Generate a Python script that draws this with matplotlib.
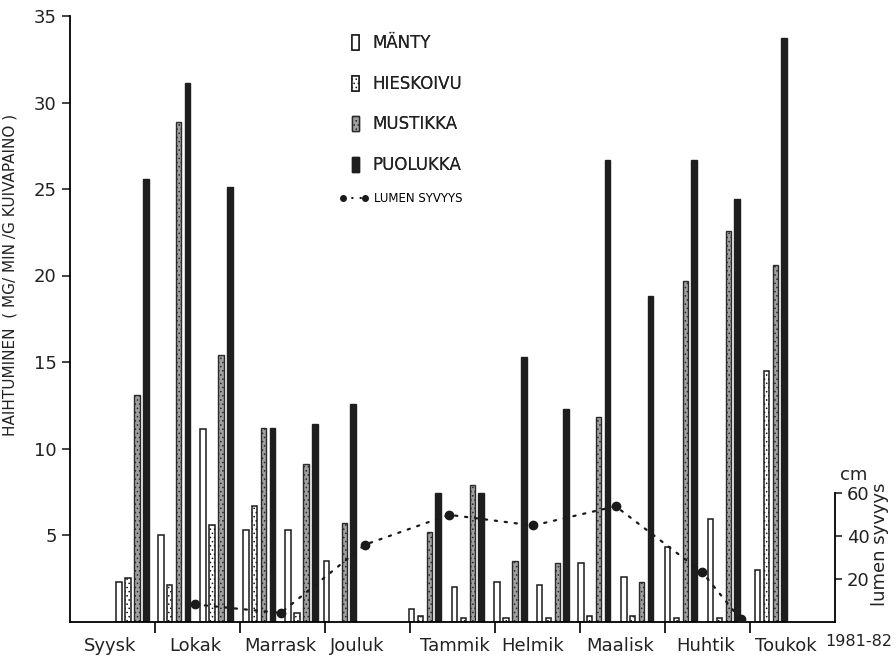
import numpy as np
import matplotlib.pyplot as plt
from matplotlib.patches import Patch
from matplotlib.lines import Line2D

plt.rcParams['font.family'] = ['DejaVu Sans']
plt.rcParams['hatch.linewidth'] = 0.6

months = ['Syysk', 'Lokak', 'Marrask', 'Jouluk', 'Tammik', 'Helmik', 'Maalisk', 'Huhtik', 'Toukok']
month_label_pos = [0.47, 1.47, 2.48, 3.38, 4.53, 5.44, 6.47, 7.48, 8.42]
# measurement dates (months from 1 Sept 1981)
dates = [0.735, 1.224, 1.726, 2.224, 2.725, 3.176, 4.176, 4.682, 5.182, 5.682, 6.165, 6.671, 7.188, 7.694, 8.247]
manty = [2.3, 5.0, 11.1, 5.3, 5.3, 3.5, 0.7, 2.0, 2.3, 2.1, 3.4, 2.6, 4.3, 5.9, 3.0]
hieskoivu = [2.5, 2.1, 5.6, 6.7, 0.5, 0.0, 0.3, 0.2, 0.2, 0.2, 0.3, 0.3, 0.2, 0.2, 14.5]
mustikka = [13.1, 28.9, 15.4, 11.2, 9.1, 5.7, 5.2, 7.9, 3.5, 3.4, 11.8, 2.3, 19.7, 22.6, 20.6]
puolukka = [25.6, 31.1, 25.1, 11.2, 11.4, 12.6, 7.4, 7.4, 15.3, 12.3, 26.7, 18.8, 26.7, 24.4, 33.7]

snow_dates = [1.47, 2.48, 3.47, 4.46, 5.45, 6.42, 7.44, 7.89]
snow_cm = [8, 4, 36, 50, 45, 54, 23, 1]

fig = plt.figure(figsize=(8.96, 6.61), dpi=100)
ax = fig.add_axes([70/896, 39.5/661, 765/896, 605.5/661])
ax.set_xlim(0, 9)
ax.set_ylim(0, 35)

x = np.array(dates)
step = 0.105
w = 0.068
styles = [
    dict(facecolor='white', edgecolor='#1a1a1a', linewidth=1.1),
    dict(facecolor='white', edgecolor='#1a1a1a', linewidth=1.1, hatch='....'),
    dict(facecolor='#a0a0a0', edgecolor='#2a2a2a', linewidth=1.0, hatch='....'),
    dict(facecolor='#1e1e1e', edgecolor='#1e1e1e', linewidth=1.0),
]
series = [manty, hieskoivu, mustikka, puolukka]
names = ['MÄNTY', 'HIESKOIVU', 'MUSTIKKA', 'PUOLUKKA']
for i, (vals, st) in enumerate(zip(series, styles)):
    v = np.array(vals)
    m = v > 0
    ax.bar(x[m] + (i - 1.5) * step, v[m], width=w, **st)

for s in ['top', 'right']:
    ax.spines[s].set_visible(False)
ax.spines['left'].set_linewidth(1.3)
ax.spines['bottom'].set_linewidth(1.3)
ax.set_yticks([5, 10, 15, 20, 25, 30, 35])
ax.tick_params(axis='y', direction='out', length=6, width=1.2, labelsize=13, colors='#222222')
ax.set_xticks(range(1, 9))
ax.set_xticklabels([])
ax.tick_params(axis='x', which='major', direction='out', length=8, width=1.2)
ax.set_xticks(month_label_pos, minor=True)
ax.set_xticklabels(months, minor=True)
ax.tick_params(axis='x', which='minor', length=0, pad=11, labelsize=13, colors='#222222')
fig.text(892/896, 1 - 642/661, '1981-82', fontsize=11.5, ha='right', va='center', color='#222222')

ax.set_ylabel('HAIHTUMINEN  ( MG/ MIN /G KUIVAPAINO )', fontsize=11, color='#222222')
ax.yaxis.set_label_coords(-0.068, 0.572)

# snow depth on a second axis
ax2 = ax.twinx()
ax2.set_ylim(0, 283.8)
for s in ['top', 'left', 'bottom']:
    ax2.spines[s].set_visible(False)
ax2.spines['right'].set_bounds(0, 60)
ax2.spines['right'].set_linewidth(1.3)
ax2.set_yticks([20, 40, 60])
ax2.tick_params(axis='y', direction='out', length=5, width=1.2, labelsize=13, colors='#222222')
ax2.plot(snow_dates, snow_cm, color='#1a1a1a', linestyle=(0, (1, 3.5)), linewidth=1.6,
         dash_capstyle='round', marker='o', markersize=6)
ax2.text(1.007, 68.7, 'cm', transform=ax2.get_yaxis_transform(), fontsize=13,
         ha='left', va='center', color='#222222')
ax2.text(1.059, 36, 'lumen syvyys', transform=ax2.get_yaxis_transform(), fontsize=13,
         rotation=90, ha='center', va='center', color='#222222')

handles = [Patch(**st) for st in styles]
leg = ax.legend(handles, names, loc='upper left', bbox_to_anchor=(344/896, 1 - 26/661),
                bbox_transform=fig.transFigure, frameon=False, fontsize=12,
                handlelength=0.4, handleheight=1.0, handletextpad=0.8, labelspacing=1.35,
                borderpad=0)
for t in leg.get_texts():
    t.set_color('#222222')
ax.add_artist(leg)
line_h = Line2D([], [], color='#1a1a1a', linestyle=(0, (1, 3)), linewidth=1.5,
                marker='o', markersize=4)
ax2.legend([line_h], ['LUMEN SYVYYS'], loc='upper left', bbox_to_anchor=(334/896, 1 - 186/661),
           bbox_transform=fig.transFigure, frameon=False, fontsize=8.5, numpoints=2,
           handlelength=2.4, handletextpad=0.5, borderpad=0)

fig.savefig('out.png', dpi=100)
